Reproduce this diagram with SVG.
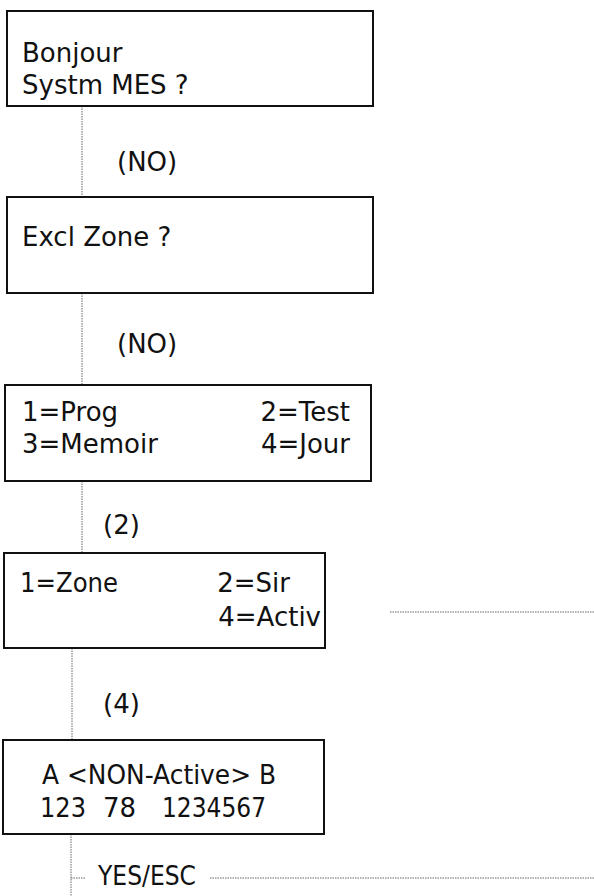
<svg xmlns="http://www.w3.org/2000/svg" width="594" height="896" viewBox="0 0 594 896">
<style>
.box{fill:#fff;stroke:#111;stroke-width:2}
.t{font-family:"DejaVu Sans","Liberation Sans",sans-serif;font-size:26px;fill:#111}
.r{text-anchor:end}
.c{fill:none;stroke:#666;stroke-width:1;stroke-dasharray:1.5 1}
</style>
<rect width="594" height="896" fill="#fff"/>
<g id="connectors">
<line class="c" x1="82" y1="106" x2="82" y2="197"/>
<line class="c" x1="82" y1="293" x2="82" y2="385"/>
<line class="c" x1="82" y1="481" x2="82" y2="553"/>
<line class="c" x1="72" y1="648" x2="72" y2="740"/>
<line class="c" x1="71" y1="834" x2="71" y2="896"/>
<line class="c" x1="71" y1="878" x2="86" y2="878"/>
<line class="c" x1="390" y1="612" x2="594" y2="612"/>
<line class="c" x1="210" y1="878" x2="594" y2="878"/>
</g>
<g id="node1">
<rect class="box" x="7" y="11" width="366" height="95"/>
<text class="t" x="22" y="62">Bonjour</text>
<text class="t" x="22" y="94">Systm MES ?</text>
</g>
<g id="label1"><text class="t" x="117" y="171">(NO)</text></g>
<g id="node2">
<rect class="box" x="7" y="197" width="366" height="96"/>
<text class="t" x="22" y="246">Excl Zone ?</text>
</g>
<g id="label2"><text class="t" x="117" y="353">(NO)</text></g>
<g id="node3">
<rect class="box" x="5" y="385" width="366" height="96"/>
<text class="t" x="22" y="421">1=Prog</text>
<text class="t r" x="350" y="421">2=Test</text>
<text class="t" x="22" y="453">3=Memoir</text>
<text class="t r" x="350" y="453">4=Jour</text>
</g>
<g id="label3"><text class="t" x="103" y="534">(2)</text></g>
<g id="node4">
<rect class="box" x="4" y="553" width="321" height="95"/>
<text class="t" x="20" y="592" textLength="98" lengthAdjust="spacingAndGlyphs">1=Zone</text>
<text class="t r" x="290" y="592">2=Sir</text>
<text class="t r" x="321" y="626">4=Activ</text>
</g>
<g id="label4"><text class="t" x="103" y="713">(4)</text></g>
<g id="node5">
<rect class="box" x="3" y="740" width="321" height="94"/>
<text class="t" x="42" y="784" textLength="234" lengthAdjust="spacingAndGlyphs">A &lt;NON-Active&gt; B</text>
<text class="t" x="40" y="817" textLength="46" lengthAdjust="spacingAndGlyphs">123</text>
<text class="t" x="103" y="817">78</text>
<text class="t" x="162" y="817" textLength="104" lengthAdjust="spacingAndGlyphs">1234567</text>
</g>
<g id="label5"><text class="t" x="98" y="885" textLength="98" lengthAdjust="spacingAndGlyphs">YES/ESC</text></g>
</svg>
